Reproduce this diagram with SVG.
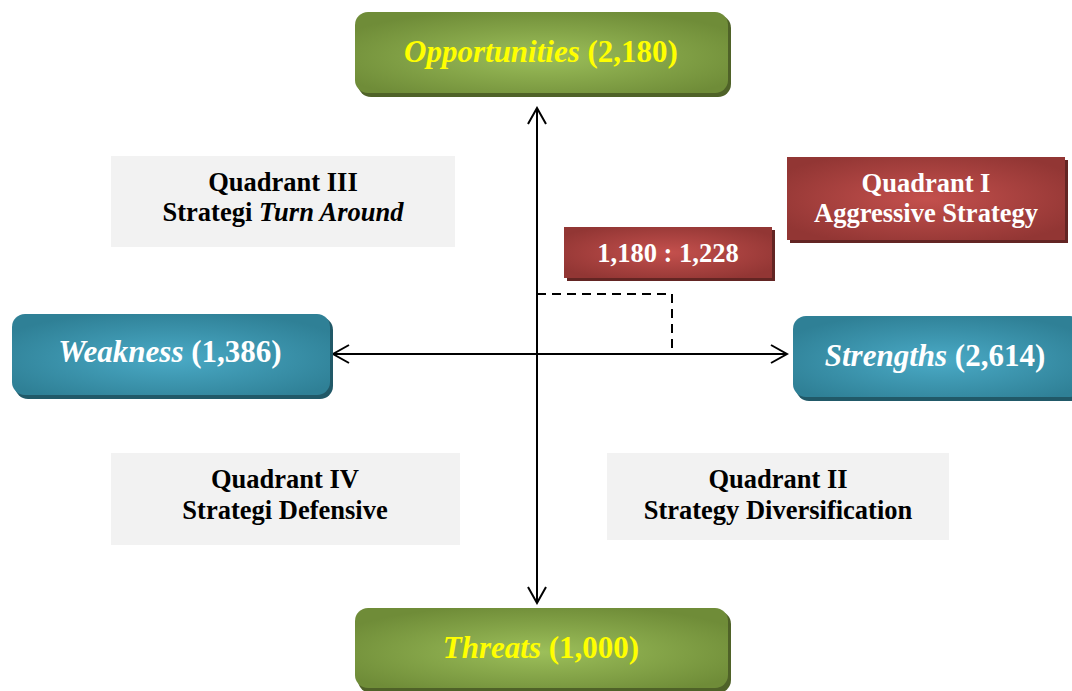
<svg xmlns="http://www.w3.org/2000/svg" width="1072" height="691" viewBox="0 0 1072 691">
<defs>
<radialGradient id="gG" cx="50%" cy="55%" r="60%"><stop offset="0" stop-color="#9cbf5a"/><stop offset="1" stop-color="#6f8c38"/></radialGradient>
<radialGradient id="gB" cx="50%" cy="55%" r="60%"><stop offset="0" stop-color="#4aaac6"/><stop offset="1" stop-color="#2f8096"/></radialGradient>
<radialGradient id="gR" cx="50%" cy="50%" r="60%"><stop offset="0" stop-color="#c4504d"/><stop offset="1" stop-color="#923634"/></radialGradient>
<marker id="arr" viewBox="0 0 20 20" refX="18" refY="10" markerWidth="20" markerHeight="20" markerUnits="userSpaceOnUse" orient="auto-start-reverse">
<path d="M2,1 L18,10 L2,19" fill="none" stroke="#000" stroke-width="2"/>
</marker>
<style>
.t{font-family:'Liberation Serif','Times New Roman',serif;font-weight:bold;text-anchor:middle}
.big{font-size:31px}
.q{font-size:26.5px}
.y{fill:#ffff00}
.w{fill:#ffffff}
.k{fill:#000000}
.grey{fill:#f2f2f2}
</style>
</defs>
<g id="connectors" fill="none" stroke="#000">
<line x1="537" y1="108" x2="537" y2="603" stroke-width="2" marker-start="url(#arr)" marker-end="url(#arr)"/>
<line x1="333" y1="354" x2="787" y2="354" stroke-width="2" marker-start="url(#arr)" marker-end="url(#arr)"/>
<polyline points="537,294 672,294 672,354" stroke-width="2" stroke-dasharray="9,6"/>
</g>
<g id="opportunities">
<rect x="358" y="15" width="373" height="82" rx="13" fill="#4f6228"/>
<rect x="355" y="12" width="373" height="81" rx="13" fill="url(#gG)"/>
<text x="541" y="62" class="t big y" font-family="Liberation Serif, serif"><tspan font-style="italic">Opportunities</tspan> (2,180)</text>
</g>
<g id="threats">
<rect x="358" y="611" width="373" height="82" rx="13" fill="#4f6228"/>
<rect x="355" y="608" width="373" height="80" rx="13" fill="url(#gG)"/>
<text x="541" y="658" class="t big y" font-family="Liberation Serif, serif"><tspan font-style="italic">Threats</tspan> (1,000)</text>
</g>
<g id="weakness">
<rect x="15" y="317" width="318" height="82" rx="13" fill="#215968"/>
<rect x="12" y="314" width="318" height="81" rx="13" fill="url(#gB)"/>
<text x="170" y="362" class="t big w" font-family="Liberation Serif, serif"><tspan font-style="italic">Weakness</tspan> (1,386)</text>
</g>
<g id="strengths">
<rect x="796" y="319" width="290" height="82" rx="13" fill="#215968"/>
<rect x="793" y="316" width="290" height="81" rx="13" fill="url(#gB)"/>
<text x="935" y="366" class="t big w" font-family="Liberation Serif, serif"><tspan font-style="italic">Strengths</tspan> (2,614)</text>
</g>
<g id="quadrant3">
<rect x="111" y="156" width="344" height="91" class="grey"/>
<text x="283" y="191" class="t q k" font-family="Liberation Serif, serif">Quadrant III</text>
<text x="283" y="221" class="t q k" font-family="Liberation Serif, serif">Strategi <tspan font-style="italic">Turn Around</tspan></text>
</g>
<g id="quadrant4">
<rect x="111" y="453" width="349" height="92" class="grey"/>
<text x="285" y="488" class="t q k" font-family="Liberation Serif, serif">Quadrant IV</text>
<text x="285" y="519" class="t q k" font-family="Liberation Serif, serif">Strategi Defensive</text>
</g>
<g id="quadrant2">
<rect x="607" y="453" width="342" height="87" class="grey"/>
<text x="778" y="488" class="t q k" font-family="Liberation Serif, serif">Quadrant II</text>
<text x="778" y="519" class="t q k" font-family="Liberation Serif, serif">Strategy Diversification</text>
</g>
<g id="quadrant1">
<rect x="790" y="160" width="278" height="83" fill="#632523"/>
<rect x="787" y="157" width="278" height="83" fill="url(#gR)"/>
<text x="926" y="192" class="t q w" font-family="Liberation Serif, serif">Quadrant I</text>
<text x="926" y="222" class="t q w" font-family="Liberation Serif, serif">Aggressive Strategy</text>
</g>
<g id="point">
<rect x="567" y="230" width="208" height="51" fill="#632523"/>
<rect x="564" y="227" width="208" height="51" fill="url(#gR)"/>
<text x="668" y="262" class="t q w" font-family="Liberation Serif, serif">1,180 : 1,228</text>
</g>
</svg>
